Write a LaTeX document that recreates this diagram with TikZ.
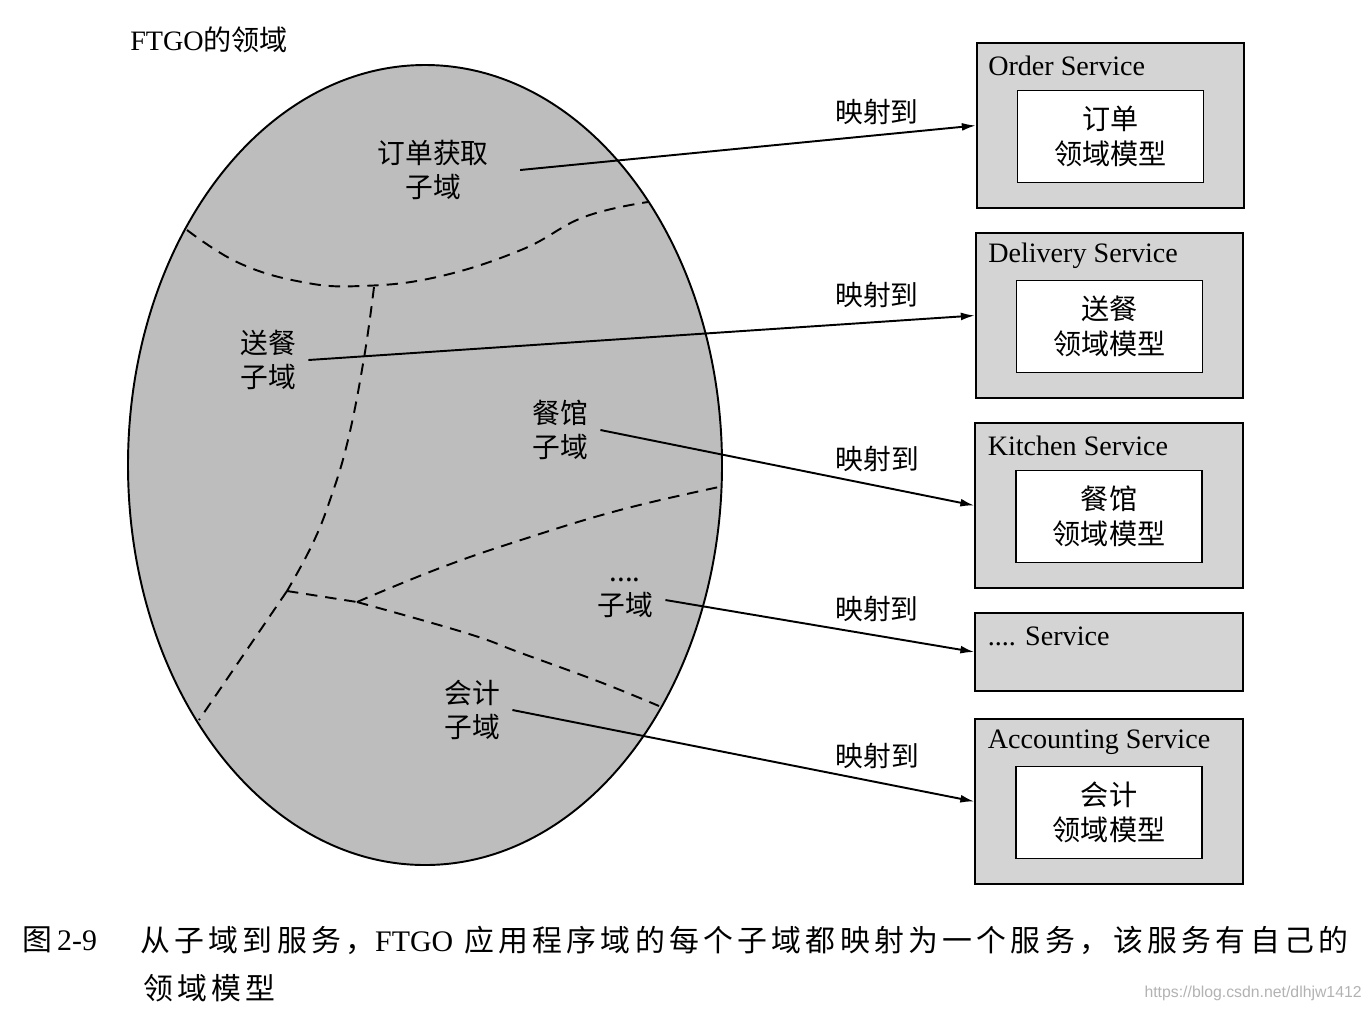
\documentclass[tikz,border=0pt]{standalone}
\usepackage{fontspec}
\setmainfont{Liberation Serif}
\setsansfont{Liberation Sans}
\newfontfamily\cjk{Noto Sans CJK SC}
\newfontfamily\capcjk[LetterSpace=14.4]{Noto Sans CJK SC}
\usetikzlibrary{arrows.meta,positioning}

\begin{document}
\begin{tikzpicture}[x=0.02cm,y=-0.02cm,
  domainfill/.style={fill=black!26, draw=black, line width=1.1pt},
  subline/.style={line width=1.1pt, dash pattern=on 6.5pt off 4.5pt},
  sublabel/.style={font=\cjk\fontsize{15.8}{19.5}\selectfont, align=center, inner sep=7pt},
  maparrow/.style={-{Latex[length=8pt,width=4.5pt]}, line width=1.1pt},
  maplabel/.style={font=\cjk\fontsize{15.8}{19}\selectfont, above=4pt},
  svcbox/.style={draw=black, fill=black!17, line width=1pt, minimum width=5.35cm, minimum height=3.3cm, inner sep=0pt},
  svctitle/.style={font=\fontsize{16}{19}\selectfont, anchor=west, inner sep=0pt},
  modelbox/.style={draw=black, fill=white, line width=1pt, minimum width=3.72cm, minimum height=1.84cm, align=center, font=\cjk\fontsize{16}{20}\selectfont},
  captext/.style={font=\capcjk\fontsize{17}{20}\selectfont, anchor=west, inner sep=0pt}]

  \useasboundingbox (0,0) rectangle (1371,1012);

  % The FTGO domain
  \node[font=\fontsize{16}{19}\selectfont, anchor=west, inner sep=0pt] (domaintitle) at (130,40) {FTGO{\cjk 的领域}};
  \draw[domainfill] (425,465) ellipse [x radius=297, y radius=400];

  % Subdomain borders
  \draw[subline] plot[smooth, tension=0.7] coordinates {(187,230) (239,263) (302,282) (361,286) (437,277) (521,250) (584,217) (648,202)};
  \draw[subline] plot[smooth, tension=0.7] coordinates {(374,287) (364,358) (348,440) (330,500) (312,545) (287,591)};
  \draw[subline] (287,591) -- (199,720);
  \draw[subline] (287,591) -- (357,602);
  \draw[subline] plot[smooth, tension=0.7] coordinates {(357,602) (440,568) (521,540) (620,510) (719,487)};
  \draw[subline] plot[smooth, tension=0.7] coordinates {(357,602) (466,633) (521,653) (600,682) (659,706)};

  % Subdomains
  \node[sublabel] (ordersub)    at (433,170) {订单获取\\子域};
  \node[sublabel] (deliverysub) at (268,360) {送餐\\子域};
  \node[sublabel] (kitchensub)  at (560,430) {餐馆\\子域};
  \node[sublabel] (othersub)    at (625,598) {....\\子域};
  \node[sublabel] (accountsub)  at (472,710) {会计\\子域};

  % Services
  \node[svcbox] (ordersvc)    at (1110.5,125.5) {};
  \node[svcbox] (deliverysvc) at (1109.5,315.5) {};
  \node[svcbox] (kitchensvc)  at (1109,505.5) {};
  \node[svcbox, minimum height=1.56cm] (othersvc) at (1109,652) {};
  \node[svcbox] (accountsvc)  at (1109,801.5) {};

  \node[svctitle] (ordertitle)    at ([shift={(12,24)}]ordersvc.north west) {Order Service};
  \node[svctitle] (deliverytitle) at ([shift={(13,24)}]deliverysvc.north west) {Delivery Service};
  \node[svctitle] (kitchentitle)  at ([shift={(13,24)}]kitchensvc.north west) {Kitchen Service};
  \node[svctitle] (othertitle)    at ([shift={(13,24)}]othersvc.north west) {.... Service};
  \node[svctitle] (accounttitle)  at ([shift={(13,24)}]accountsvc.north west) {Accounting Service};

  \node[modelbox] (ordermodel)    at ([shift={(0,11)}]ordersvc.center) {订单\\领域模型};
  \node[modelbox] (deliverymodel) at ([shift={(0,11)}]deliverysvc.center) {送餐\\领域模型};
  \node[modelbox] (kitchenmodel)  at ([shift={(0,11)}]kitchensvc.center) {餐馆\\领域模型};
  \node[modelbox] (accountmodel)  at ([shift={(0,11)}]accountsvc.center) {会计\\领域模型};

  % Mappings
  \draw[maparrow] ([xshift=0.38cm]ordersub.east) -- node[maplabel, pos=.783, above=2pt] {映射到} (ordersvc.west);
  \draw[maparrow] (deliverysub.east) -- node[maplabel, pos=.853] {映射到} (deliverysvc.west);
  \draw[maparrow] (kitchensub.east) -- node[maplabel, pos=.74] {映射到} (kitchensvc.west);
  \draw[maparrow] ([yshift=-0.04cm]othersub.east) -- node[maplabel, pos=.685] {映射到} (othersvc.west);
  \draw[maparrow] (accountsub.east) -- node[maplabel, pos=.79] {映射到} (accountsvc.west);

  % Caption
  \node[captext] (figno)    at (22,940)  {图\,{\rmfamily 2-9}};
  \node[captext] (captionA) at (140,940) {从子域到服务，{\rmfamily FTGO} 应用程序域的每个子域都映射为一个服务，该服务有自己的};
  \node[captext] (captionB) at (143,988) {领域模型};
  \node[font=\sffamily\fontsize{9}{10}\selectfont, text=black!30, anchor=east, inner sep=0pt] (mark) at (1362,993) {https://blog.csdn.net/dlhjw1412};
\end{tikzpicture}
\end{document}
